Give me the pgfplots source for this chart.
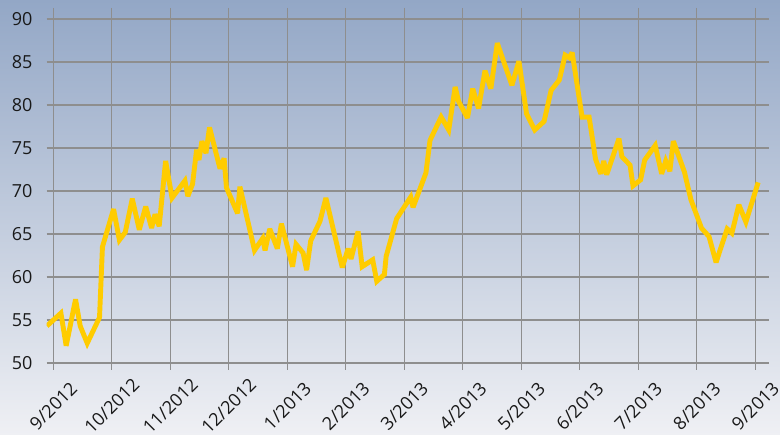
\documentclass[border=0pt]{standalone}
\usepackage{pgfplots}
\pgfplotsset{compat=1.18}
\usepackage{fontspec}
\setmainfont{Open Sans}
\usetikzlibrary{backgrounds}
\definecolor{bgtop}{HTML}{93A7C6}
\definecolor{bgbot}{HTML}{EFF0F4}
\definecolor{gridc}{HTML}{8E8E8E}
\definecolor{lineyel}{HTML}{FFCC00}
\pgfplotstableread{
m v
-0.11 54.3
0.13 55.8
0.22 52.0
0.38 57.4
0.46 54.3
0.58 52.3
0.79 55.3
0.84 63.5
1.03 67.9
1.13 64.3
1.23 65.2
1.35 69.1
1.47 65.5
1.58 68.2
1.68 65.7
1.74 67.3
1.81 65.9
1.92 73.5
2.03 69.2
2.25 71.2
2.30 69.4
2.38 70.8
2.45 74.8
2.49 73.6
2.54 75.8
2.61 74.4
2.67 77.4
2.85 72.6
2.92 73.8
2.96 70.4
3.15 67.4
3.19 70.5
3.44 63.1
3.58 64.5
3.62 63.1
3.70 65.6
3.83 63.3
3.90 66.2
4.09 61.2
4.15 63.8
4.27 62.8
4.33 60.8
4.40 64.2
4.56 66.5
4.66 69.2
4.94 61.1
5.04 63.3
5.09 62.1
5.21 65.3
5.28 61.2
5.46 62.0
5.53 59.5
5.66 60.3
5.69 62.4
5.87 66.8
6.11 69.3
6.15 68.1
6.37 72.1
6.44 75.9
6.63 78.6
6.76 77.1
6.87 82.1
6.93 80.4
7.08 78.5
7.17 81.9
7.27 79.6
7.38 84.0
7.48 81.9
7.59 87.2
7.84 82.3
7.96 85.1
8.09 79.0
8.23 77.1
8.39 78.1
8.51 81.7
8.65 82.9
8.75 85.8
8.82 85.5
8.87 86.1
9.04 78.6
9.16 78.6
9.27 73.7
9.36 72.0
9.41 73.5
9.46 71.9
9.67 76.1
9.72 74.0
9.86 73.0
9.91 70.6
10.04 71.3
10.11 73.6
10.29 75.3
10.40 72.0
10.47 73.5
10.54 72.3
10.60 75.8
10.79 72.2
10.90 69.0
11.08 65.7
11.21 64.7
11.33 61.7
11.52 65.6
11.60 65.1
11.72 68.4
11.84 66.4
12.05 71.0
}\datatable
\begin{document}
\fontsize{18}{21.6}\selectfont
\begin{tikzpicture}
\begin{axis}[
  at={(0,0)}, anchor=south west,
  scale only axis, width=722pt, height=348pt,
  xmin=-0.113, xmax=12.23, ymin=50, ymax=90.47,
  xtick={0,...,12},
  xticklabels={9/2012,10/2012,11/2012,12/2012,1/2013,2/2013,3/2013,4/2013,5/2013,6/2013,7/2013,8/2013,9/2013},
  ytick={50,55,...,90},
  grid=major,
  major grid style={gridc, line width=1.2pt},
  axis line style={draw=none},
  tick align=outside,
  major tick length=7pt,
  xtick style={gridc, line width=1.2pt},
  ytick style={draw=none},
  /pgf/number format/assume math mode=true,
  tick label style={font=\fontsize{18}{21.6}\selectfont, text=black!90},
  xticklabel style={yshift=-36pt, rotate=45, anchor=center},
  yticklabel style={xshift=-1pt},
]
\addplot[lineyel, line width=4.9pt, line join=miter, miter limit=3] table[x=m, y=v] {\datatable};
\end{axis}
\pgfresetboundingbox
\path[use as bounding box] (-46.7pt,-72pt) rectangle (733.3pt,363pt);
\begin{scope}[on background layer]
\shade[top color=bgtop, bottom color=bgbot] (-46.7pt,-72pt) rectangle (733.3pt,363pt);
\end{scope}
\end{tikzpicture}
\end{document}
